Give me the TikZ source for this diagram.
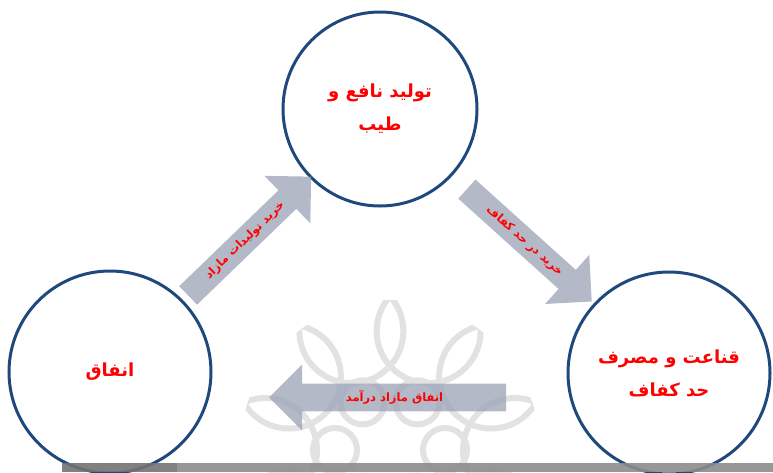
\documentclass[tikz,border=0pt]{standalone}
\usepackage{fontspec}
\newfontfamily\arabicfont[Script=Arabic]{DejaVu Sans}
\TeXXeTstate=1
\usetikzlibrary{shapes.arrows,calc}
\definecolor{ringblue}{RGB}{31,73,125}
\definecolor{flowgray}{RGB}{155,162,182}
\definecolor{markgray}{RGB}{226,226,226}

\begin{document}
\begin{tikzpicture}[
        x=1pt, y=-1pt,
        stage/.style={circle, draw=ringblue, line width=3pt, fill=white, minimum size=#1, inner sep=0pt, align=center, text=red, font=\arabicfont\bfseries\fontsize{18}{33}\selectfont},
        flow/.style={single arrow, single arrow tip angle=90, single arrow head extend=12.5pt, minimum width=66pt, minimum height=#1, inner sep=2pt, fill=flowgray, fill opacity=0.75, text opacity=1, text=red, font=\arabicfont\bfseries\fontsize{11.5}{13}\selectfont},
        wmark/.style={draw=markgray, line width=6pt},
    ]
    \useasboundingbox (0,0) rectangle (773,472);
    % faded rosette behind everything
    \begin{scope}
        \coordinate (wc) at (390,450);
        \clip (wc) circle (150);
        \foreach \a in {0,36,...,324}
            \draw[wmark] ($(wc)+(\a:125)$) circle (52);
        \foreach \a in {0,60,...,300}
            \draw[wmark] ($(wc)+(\a:55)$) circle (22);
    \end{scope}

    \node[stage=194pt] (tayyeb) at (380,109) {\beginR تولید نافع و\endR\\\beginR طیب\endR};
    \node[stage=202pt] (enfagh) at (110,372) {\beginR انفاق\endR};
    \node[stage=202pt] (qanaat) at (669,373) {\beginR قناعت و مصرف\endR\\\beginR حد کفاف\endR};

    % strip along the bottom
    \fill[black!55, opacity=0.9] (62,463) rectangle (177,472);
    \fill[black!45, opacity=0.9] (177,463) rectangle (773,472);

    \node[flow=171pt, rotate=44] (buy) at ($(enfagh)!0.5!(tayyeb)$) {\beginR خرید تولیدات مازاد\endR};
    \node[flow=168pt, rotate=-42] (need) at ($(tayyeb)!0.5!(qanaat)$) {\beginR خرید در حد کفاف\endR};
    \node[flow=237pt, shape border rotate=180] (give) at ($($(qanaat)!0.5!(enfagh)$)+(5,25)$) {\beginR انفاق مازاد درآمد\endR};
\end{tikzpicture}
\end{document}
